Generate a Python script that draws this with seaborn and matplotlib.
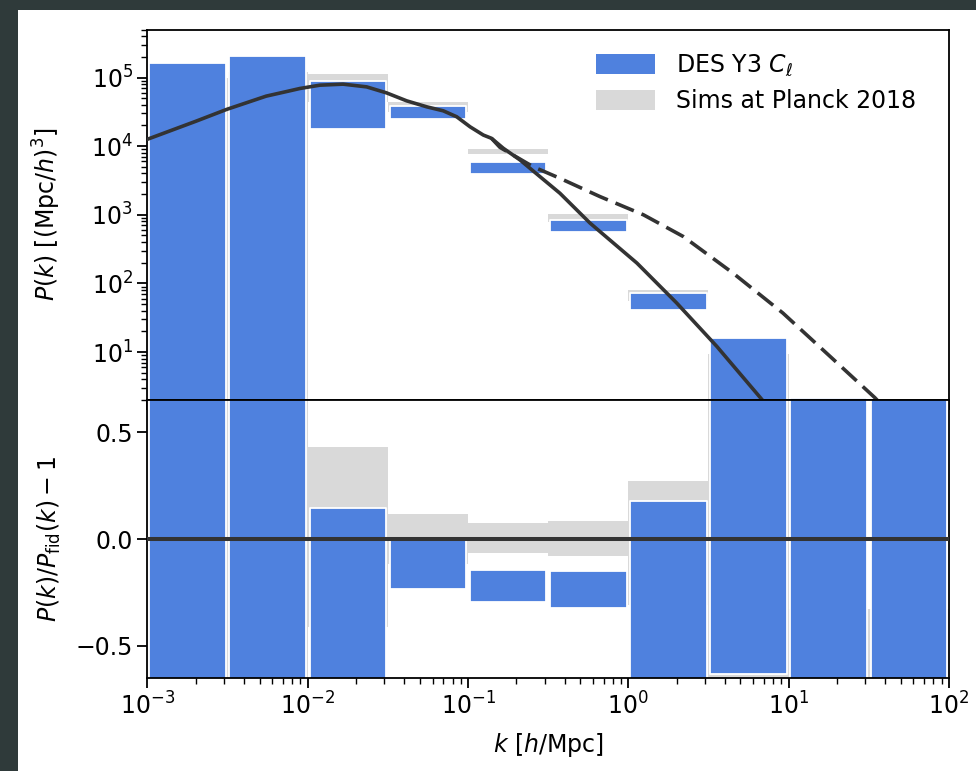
import numpy as np
import matplotlib
matplotlib.use("Agg")
import matplotlib.pyplot as plt
from matplotlib.patches import Patch, Rectangle
from matplotlib.ticker import LogLocator, NullFormatter
import seaborn as sns

# --- data ---
k_edges = [0.001, 0.00316, 0.01, 0.0316, 0.1, 0.316, 1.0, 3.16, 10.0, 31.6, 100.0]

# top panel: P(k) boxes (low, high); values below the axis are simply clipped
des_pk_lo = [0.5, 0.5, 1.8e4, 2.45e4, 3.9e3, 564, 41, 0.5, 0.5, 0.1]
des_pk_hi = [1.65e5, 2.06e5, 8.8e4, 3.83e4, 5.8e3, 844, 72, 15.9, 2.16, 0.5]
sims_pk_lo = [0.5, 0.5, 4.4e4, 3.16e4, 7.8e3, 780, 55, 0.5, 0.1, 0.1]
sims_pk_hi = [1.0e5, 1.2e5, 1.12e5, 4.4e4, 9.2e3, 1030, 80, 9.5, 0.5, 0.5]

# bottom panel: ratio boxes
des_ratio_lo = [-2.0, -2.0, -2.0, -0.236, -0.295, -0.324, -2.0, -0.63, -2.0, -2.0]
des_ratio_hi = [2.0, 2.0, 0.144, -0.006, -0.146, -0.149, 0.177, 2.0, 2.0, 2.0]
sims_ratio_lo = [-1.0, -1.0, -0.41, -0.115, -0.065, -0.081, -0.309, -0.68, -2.0, -2.0]
sims_ratio_hi = [1.0, 1.0, 0.432, 0.118, 0.073, 0.082, 0.272, 2.0, -0.325, -0.325]

# fiducial (solid) and non-linear (dashed) curves
k_fid = [0.001, 0.002, 0.00312, 0.0055, 0.0075, 0.00894, 0.0119, 0.0166, 0.0233,
         0.031, 0.0414, 0.0552, 0.070, 0.0849, 0.103, 0.1245, 0.140, 0.166,
         0.211, 0.281, 0.374, 0.577, 1.13, 2.0, 3.56, 6.8, 8.0]
pk_fid = [1.26e4, 2.3e4, 3.43e4, 5.35e4, 6.3e4, 6.92e4, 7.73e4, 8.0e4, 7.3e4,
          5.97e4, 4.57e4, 3.74e4, 3.27e4, 2.68e4, 1.91e4, 1.45e4, 1.30e4, 9.3e3,
          6.28e3, 3.59e3, 2.06e3, 755, 198, 51.9, 12.1, 2.04, 1.3]
k_nl = [0.140, 0.158, 0.255, 0.374, 0.665, 1.24, 2.2, 4.5, 9.2, 19.0, 34.5, 40.0]
pk_nl = [1.30e4, 9.6e3, 5.0e3, 3.4e3, 1.84e3, 1000, 482, 141, 37, 7.8, 2.16, 1.5]

blue = "#4f81de"
grey = "#d9d9d9"
dark = "#333333"

sns.set_theme(style="ticks")
plt.rcParams["font.family"] = ["DejaVu Sans"]
plt.rcParams["mathtext.fontset"] = "dejavusans"
plt.rcParams["axes.edgecolor"] = "black"
plt.rcParams["axes.linewidth"] = 1.3

fig = plt.figure(figsize=(9.76, 7.71), dpi=100, facecolor="#2f3a3a")
fig.add_artist(Rectangle((17.7 / 976, 0), 1, 761 / 771, transform=fig.transFigure,
                         facecolor="white", edgecolor="none", zorder=-10))

ax1 = fig.add_axes([0.1511, 0.4812, 0.8212, 0.4805])
ax2 = fig.add_axes([0.1511, 0.1206, 0.8212, 0.3606], sharex=ax1)

lefts = np.array(k_edges[:-1])
rights = np.array(k_edges[1:])
inset = 10 ** 0.011


def draw_boxes(ax, lo, hi, color, shrink, lw):
    lo = np.array(lo)
    hi = np.array(hi)
    l = lefts * shrink
    r = rights / shrink
    ax.bar(l, hi - lo, width=r - l, bottom=lo, align="edge", color=color,
           edgecolor="white" if lw > 0 else color, linewidth=lw, joinstyle="round")


for ax in (ax1, ax2):
    ax.set_xscale("log")

draw_boxes(ax1, sims_pk_lo, sims_pk_hi, grey, 1.0, 0)
draw_boxes(ax1, des_pk_lo, des_pk_hi, blue, inset, 1.3)
draw_boxes(ax2, sims_ratio_lo, sims_ratio_hi, grey, 1.0, 0)
draw_boxes(ax2, des_ratio_lo, des_ratio_hi, blue, inset, 1.3)

sns.lineplot(x=k_fid, y=pk_fid, ax=ax1, color=dark, linewidth=2.6, zorder=5)
sns.lineplot(x=k_nl, y=pk_nl, ax=ax1, color=dark, linewidth=2.6, zorder=5)
ax1.lines[-1].set_dashes((5.5, 2.3))
ax2.axhline(0, color=dark, linewidth=2.9, zorder=5)

ax1.set_yscale("log")
ax1.set_xlim(1e-3, 1e2)
ax1.set_ylim(2, 5e5)
ax2.set_ylim(-0.65, 0.65)
ax2.set_yticks([-0.5, 0.0, 0.5])

for ax in (ax1, ax2):
    ax.xaxis.set_major_locator(LogLocator(base=10, numticks=20))
    ax.xaxis.set_minor_locator(LogLocator(base=10, subs=np.arange(2, 10), numticks=100))
    ax.xaxis.set_minor_formatter(NullFormatter())
    ax.tick_params(which="major", length=7, width=1.3, direction="out",
                   labelsize=17, color="black", labelcolor="black")
    ax.tick_params(which="minor", length=4, width=1.0, direction="out", color="black")
    for s in ax.spines.values():
        s.set_visible(True)
        s.set_color("black")
        s.set_linewidth(1.3)
ax1.yaxis.set_major_locator(LogLocator(base=10, numticks=20))
ax1.yaxis.set_minor_locator(LogLocator(base=10, subs=np.arange(2, 10), numticks=100))
ax1.yaxis.set_minor_formatter(NullFormatter())
ax1.tick_params(axis="x", labelbottom=False)

ax1.set_ylabel(r"$P(k)$ [(Mpc/$h$)$^3$]", fontsize=17, color="black")
ax2.set_ylabel(r"$P(k)/P_{\rm fid}(k) - 1$", fontsize=17, color="black")
ax2.set_xlabel(r"$k$ [$h$/Mpc]", fontsize=17, color="black")
ax1.yaxis.set_label_coords(-0.105, 0.5)
ax2.yaxis.set_label_coords(-0.105, 0.5)
ax2.xaxis.set_label_coords(0.5, -0.19)

handles = [Patch(facecolor=blue, edgecolor="none"), Patch(facecolor=grey, edgecolor="none")]
leg = ax1.legend(handles, [r"DES Y3 $C_\ell$", "Sims at Planck 2018"], loc="upper right",
                 bbox_to_anchor=(0.985, 0.995), frameon=False, fontsize=17,
                 handlelength=2.5, handleheight=0.95, handletextpad=0.85,
                 labelspacing=0.47)
for t in leg.get_texts():
    t.set_color("black")

fig.savefig("out.png", dpi=100, facecolor=fig.get_facecolor())
